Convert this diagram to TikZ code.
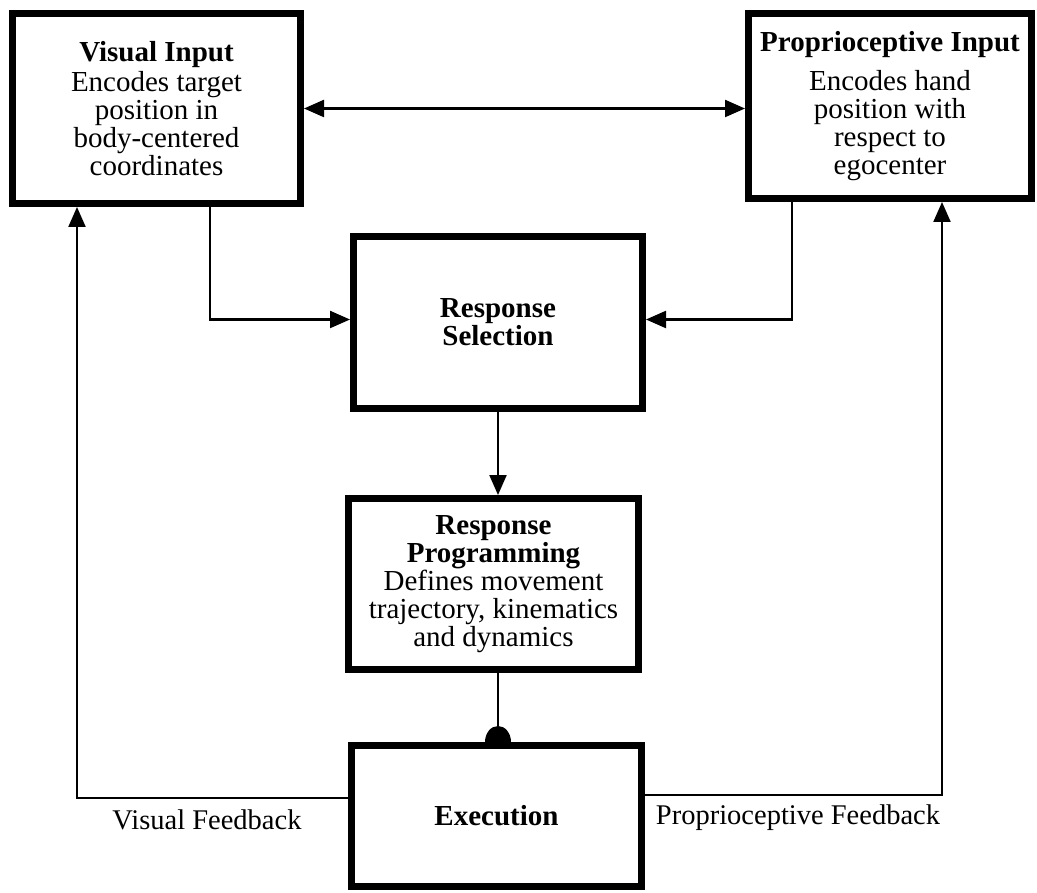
\documentclass[tikz,border=0pt]{standalone}
\usepackage{fontspec}
\setmainfont{Liberation Serif}
\usetikzlibrary{arrows.meta}
\begin{document}
\begin{tikzpicture}[x=1pt,y=-1pt,
  box/.style={draw,line width=7pt,inner sep=0pt,align=center,font=\fontsize{29}{28}\selectfont},
  conn/.style={line width=2.2pt},
  arr/.style={conn,-{Triangle[length=20pt,width=17pt]}},
  lbl/.style={font=\fontsize{28.5}{28}\selectfont,inner sep=0pt}]
\useasboundingbox (0,0) rectangle (1037,893);
\node[box,minimum width=288pt,minimum height=190pt] (VI) at (156.5,108.5)
  {\textbf{Visual Input}\\[2pt]Encodes target\\position in\\body-centered\\coordinates};
\node[box,minimum width=283pt,minimum height=185pt] (PI) at (890,106)
  {\textbf{Proprioceptive Input}\\[11pt]Encodes hand\\position with\\respect to\\egocenter};
\node[box,minimum width=289pt,minimum height=172pt] (RS) at (498,322.5)
  {\textbf{Response}\\\textbf{Selection}};
\node[box,minimum width=290pt,minimum height=171pt] (RP) at (493.5,584)
  {\textbf{Response}\\\textbf{Programming}\\Defines movement\\trajectory, kinematics\\and dynamics};
\node[box,minimum width=290pt,minimum height=141pt] (EX) at (496.5,816)
  {\textbf{Execution}};
% connectors
\draw[conn,{Triangle[length=20pt,width=17pt]}-{Triangle[length=20pt,width=17pt]}] (VI.east) -- (VI.east -| PI.west);
\draw[arr] ([xshift=53.5pt]VI.south) |- ([yshift=3pt]RS.west);
\draw[arr] ([xshift=-98pt]PI.south) |- ([yshift=3pt]RS.east);
\draw[arr] (RS.south) -- (RS.south |- RP.north);
\draw[conn] (RS.south |- RP.south) -- ([yshift=10pt]RS.south |- EX.north);
\fill ([xshift=-13pt]RS.south |- EX.north) arc[start angle=180,end angle=0,x radius=13pt,y radius=16pt] -- cycle;
\draw[arr] ([yshift=18pt]EX.west) -| ([xshift=-79.5pt]VI.south);
\draw[arr] ([yshift=21pt]EX.east) -| ([xshift=52pt]PI.south);
\node[lbl] (vf) at (207,820) {Visual Feedback};
\node[lbl] (pf) at (798,818) {Proprioceptive Feedback};
\end{tikzpicture}
\end{document}
